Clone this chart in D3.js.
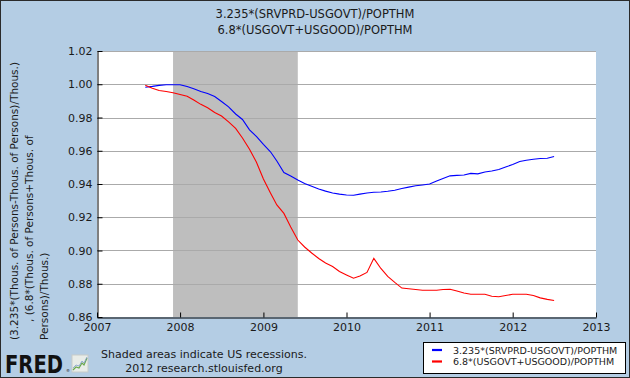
<!DOCTYPE html>
<html><head><meta charset="utf-8">
<script src="https://cdn.jsdelivr.net/npm/d3@7"></script>
<style>html,body{margin:0;padding:0;background:#b4cde4;} svg{display:block;}</style>
</head><body>
<script>
// ---------- data ----------
const titleLines = ["3.235*(SRVPRD-USGOVT)/POPTHM", "6.8*(USGOVT+USGOOD)/POPTHM"];
const seriesNames = ["3.235*(SRVPRD-USGOVT)/POPTHM", "6.8*(USGOVT+USGOOD)/POPTHM"];
const seriesColors = ["#0000ff", "#ff0000"];
const yAxisLines = ["(3.235*(Thous. of Persons-Thous. of Persons)/Thous.)",
                    ", (6.8*(Thous. of Persons+Thous. of",
                    "Persons)/Thous.)"];
// monthly, Aug 2007 .. Jul 2012
const months = d3.timeMonth.range(new Date(2007, 7, 1), new Date(2012, 7, 1));
const blueValues = [0.9982,0.9987,0.9993,0.9997,0.9997,0.9997,0.9986,0.9973,0.9956,0.9944,
                    0.9926,0.9896,0.9864,0.9821,0.9788,0.9726,0.9686,0.9638,0.9594,0.9538,
                    0.9469,0.9448,0.9424,0.9403,0.9386,0.9370,0.9357,0.9346,0.9339,0.9334,
                    0.9332,0.9339,0.9346,0.9350,0.9352,0.9356,0.9362,0.9373,0.9381,0.9389,
                    0.9394,0.9400,0.9418,0.9433,0.9449,0.9452,0.9454,0.9464,0.9461,0.9472,
                    0.9478,0.9487,0.9502,0.9517,0.9535,0.9543,0.9549,0.9553,0.9555,0.9565];
const redValues  = [0.9994,0.9976,0.9962,0.9956,0.9949,0.9938,0.9928,0.9905,0.9879,0.9859,
                    0.9830,0.9809,0.9774,0.9734,0.9677,0.9609,0.9532,0.9430,0.9346,0.9274,
                    0.9223,0.9141,0.9063,0.9021,0.8985,0.8952,0.8925,0.8904,0.8874,0.8853,
                    0.8833,0.8847,0.8868,0.8953,0.8892,0.8844,0.8808,0.8774,0.8770,0.8765,
                    0.8761,0.8761,0.8761,0.8765,0.8767,0.8756,0.8744,0.8737,0.8737,0.8737,
                    0.8725,0.8722,0.8729,0.8737,0.8737,0.8737,0.8729,0.8715,0.8706,0.8699];
const xTickYears = ["2007","2008","2009","2010","2011","2012","2013"];
const yTickValues = [0.86,0.88,0.90,0.92,0.94,0.96,0.98,1.00,1.02];
const recessionStart = "2007-12-01", recessionEnd = "2009-06-01";
const footerLines = ["Shaded areas indicate US recessions.", "2012 research.stlouisfed.org"];

// ---------- layout ----------
const W = 630, H = 378;
const M = {left: 97, right: 596, top: 51, bottom: 317};
const FONT = "'DejaVu Sans', Verdana, sans-serif";
const TXT = "#1a1a1a";

const svg = d3.select("body").append("svg").attr("width", W).attr("height", H)
  .style("font-family", FONT);

svg.append("rect").attr("x", 0.5).attr("y", 0.5).attr("width", W - 1).attr("height", H - 1)
  .attr("fill", "#b4cde4").attr("stroke", "#2a2a2a");

const x = d3.scaleTime()
  .domain([new Date(+xTickYears[0], 0, 1), new Date(+xTickYears[xTickYears.length - 1], 0, 1)])
  .range([M.left, M.right]);
const y = d3.scaleLinear().domain([yTickValues[0], yTickValues[yTickValues.length - 1]])
  .range([M.bottom, M.top]);

// plot background
svg.append("rect").attr("x", M.left).attr("y", M.top)
  .attr("width", M.right - M.left).attr("height", M.bottom - M.top).attr("fill", "#ffffff");

// recession shading
const rs = new Date(recessionStart + "T00:00"), re = new Date(recessionEnd + "T00:00");
svg.append("rect").attr("x", x(rs)).attr("y", M.top)
  .attr("width", x(re) - x(rs)).attr("height", M.bottom - M.top).attr("fill", "#bebebe");

// gridlines
svg.append("g").selectAll("line").data(yTickValues.slice(1)).join("line")
  .attr("x1", M.left).attr("x2", M.right)
  .attr("y1", d => Math.round(y(d)) + 0.5).attr("y2", d => Math.round(y(d)) + 0.5)
  .attr("stroke", "#aaaaaa").attr("stroke-width", 1);

// axes
const yAxis = d3.axisLeft(y).tickValues(yTickValues).tickFormat(d3.format(".2f"))
  .tickSizeInner(-5).tickSizeOuter(0).tickPadding(10);
const gy = svg.append("g").attr("transform", `translate(${M.left + 0.5},0)`).call(yAxis);
gy.select(".domain").attr("stroke", "#000");
gy.selectAll(".tick line").attr("stroke", "#000");
gy.selectAll(".tick text").attr("font-size", "11px").attr("fill", TXT)
  .attr("font-family", FONT).attr("x", -5);

const xAxis = d3.axisBottom(x).tickValues(xTickYears.map(s => new Date(+s, 0, 1)))
  .tickFormat(d3.timeFormat("%Y")).tickSizeInner(-5).tickSizeOuter(0).tickPadding(10);
const gx = svg.append("g").attr("transform", `translate(0,${M.bottom + 0.5})`).call(xAxis);
gx.select(".domain").attr("stroke", "#000");
gx.selectAll(".tick line").attr("stroke", "#000");
gx.selectAll(".tick text").attr("font-size", "11px").attr("fill", TXT)
  .attr("font-family", FONT).attr("y", 6);

// lines
const line = d3.line().x((d, i) => x(months[i])).y(d => y(d));
[blueValues, redValues].forEach((vals, k) => {
  svg.append("path").datum(vals).attr("d", line).attr("fill", "none")
    .attr("stroke", seriesColors[k]).attr("stroke-width", 1.1);
});

// title
svg.append("g").selectAll("text").data(titleLines).join("text")
  .attr("x", W / 2).attr("y", (d, i) => 18 + i * 16).attr("text-anchor", "middle")
  .attr("font-size", "11.5px").attr("fill", TXT).text(d => d);

// y axis label
const yl = svg.append("g").attr("transform", "rotate(-90)");
yl.selectAll("text").data(yAxisLines).join("text")
  .attr("x", (d, i) => i === 1 ? -322 : -340)
  .attr("y", (d, i) => 18 + i * 15)
  .attr("font-size", "10.5px").attr("fill", TXT).text(d => d);

// footer
svg.append("g").selectAll("text").data(footerLines).join("text")
  .attr("x", 204).attr("y", (d, i) => 358 + i * 14).attr("text-anchor", "middle")
  .attr("font-size", "11px").attr("fill", TXT).text(d => d);

// FRED logo
const fg = svg.append("g");
const ft = fg.append("text").attr("x", 0).attr("y", 0).attr("font-size", "25px").attr("font-weight", "bold")
  .attr("fill", "#111").text("FRED");
const fw = ft.node().getComputedTextLength() || 70;
fg.attr("transform", `translate(5,373) scale(${58 / fw},1)`);
svg.append("text").attr("x", 66).attr("y", 372).attr("font-size", "4px").attr("fill", "#111").text("®");
const ic = svg.append("g").attr("transform", "translate(72,355)");
ic.append("rect").attr("width", 16).attr("height", 17).attr("fill", "#e8ece8").attr("stroke", "#c8ccc8");
ic.append("path").attr("d", "M1,15 L4,12 L7,13 L10,8 L12,10 L15,3").attr("fill", "none")
  .attr("stroke", "#6aa84f").attr("stroke-width", 1.2);
ic.append("path").attr("d", "M1,13 L4,10 L7,11 L10,6 L12,8 L15,2").attr("fill", "none")
  .attr("stroke", "#7e9ccc").attr("stroke-width", 0.8);

// legend
const lg = svg.append("g");
lg.append("rect").attr("x", 423.5).attr("y", 342.5).attr("width", 202).attr("height", 31)
  .attr("fill", "#fff").attr("stroke", "#000");
seriesNames.forEach((n, i) => {
  const cy = 350 + i * 11.5;
  lg.append("line").attr("x1", 432).attr("x2", 442).attr("y1", cy).attr("y2", cy)
    .attr("stroke", seriesColors[i]).attr("stroke-width", 2.2);
  lg.append("text").attr("x", 453).attr("y", cy + 3.5).attr("font-size", "9.5px")
    .attr("fill", TXT).text(n);
});
</script>
</body></html>
